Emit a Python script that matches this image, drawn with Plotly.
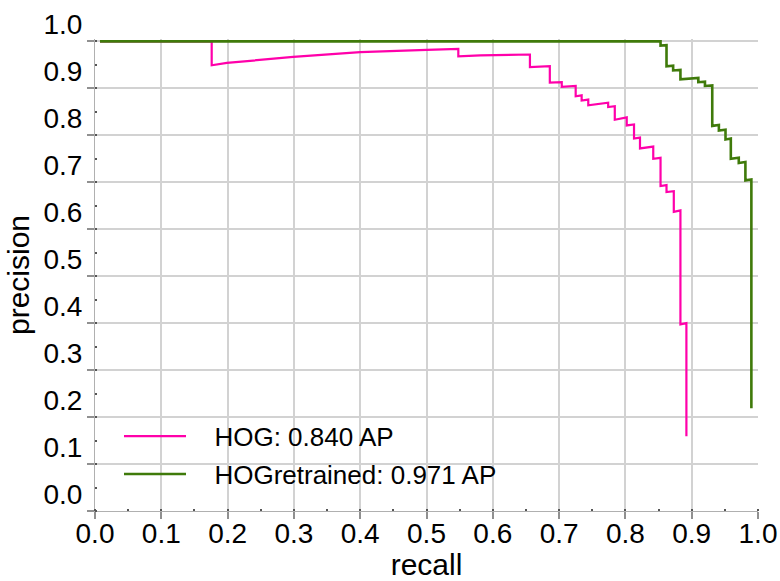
import plotly.graph_objects as go

# HOG precision-recall curve (recall, precision) points
hog_recall = [0.0075, 0.176, 0.176, 0.199, 0.299, 0.400, 0.5005, 0.548, 0.548, 0.581, 0.656,
              0.656, 0.686, 0.686, 0.704, 0.704, 0.725, 0.725, 0.734, 0.734, 0.744, 0.744,
              0.774, 0.774, 0.784, 0.784, 0.802, 0.802, 0.813, 0.813, 0.822, 0.822, 0.842,
              0.842, 0.853, 0.853, 0.862, 0.862, 0.873, 0.873, 0.883, 0.883, 0.892, 0.892]
hog_precision = [1.0, 1.0, 0.949, 0.954, 0.967, 0.977, 0.982, 0.984, 0.968, 0.970, 0.972,
                 0.945, 0.947, 0.912, 0.913, 0.903, 0.905, 0.883, 0.885, 0.874, 0.876, 0.864,
                 0.8695, 0.860, 0.862, 0.833, 0.838, 0.821, 0.823, 0.793, 0.795, 0.772, 0.776,
                 0.750, 0.752, 0.692, 0.694, 0.679, 0.681, 0.637, 0.640, 0.3975, 0.400, 0.159]

# HOGretrained precision-recall curve
ret_recall = [0.0075, 0.853, 0.853, 0.862, 0.862, 0.872, 0.872, 0.883, 0.883, 0.910, 0.910,
              0.920, 0.920, 0.931, 0.931, 0.941, 0.941, 0.951, 0.951, 0.959, 0.959, 0.971,
              0.971, 0.981, 0.981, 0.990, 0.990]
ret_precision = [1.0, 1.0, 0.991, 0.992, 0.947, 0.948, 0.938, 0.939, 0.919, 0.922, 0.913,
                 0.914, 0.905, 0.906, 0.820, 0.822, 0.810, 0.812, 0.791, 0.793, 0.750, 0.752,
                 0.741, 0.743, 0.704, 0.706, 0.219]

series_names = ["HOG: 0.840 AP", "HOGretrained: 0.971 AP"]
series_colors = ["#ff00aa", "#3f7a0a"]

tick_vals = [0.0, 0.1, 0.2, 0.3, 0.4, 0.5, 0.6, 0.7, 0.8, 0.9, 1.0]
tick_text = ["0.0", "0.1", "0.2", "0.3", "0.4", "0.5", "0.6", "0.7", "0.8", "0.9", "1.0"]

FONT = "Liberation Sans, Arial, sans-serif"
GAP = "\u2002\u2009\u2009"  # spacing between legend line and label

fig = go.Figure()
fig.add_trace(go.Scatter(x=hog_recall, y=hog_precision, mode="lines",
                         name=GAP + series_names[0], legendgroup="a",
                         line=dict(color=series_colors[0], width=2.2)))
fig.add_trace(go.Scatter(x=ret_recall, y=ret_precision, mode="lines",
                         name=GAP + series_names[1], legendgroup="b",
                         line=dict(color=series_colors[1], width=2.6)))

axis_common = dict(
    tickvals=tick_vals, ticktext=tick_text,
    showgrid=True, gridcolor="#d2d2d2", gridwidth=1.5,
    showline=True, linecolor="#b0b0b0", linewidth=1,
    ticks="outside", ticklen=7, tickwidth=1.5, tickcolor="#909090",
    tickfont=dict(family=FONT, size=28, color="black"),
    zeroline=False, automargin=False,
    minor=dict(dtick=0.05, ticks="inside", ticklen=2, tickcolor="#555555", showgrid=False),
)

fig.update_xaxes(range=[0, 1], ticklabelstandoff=-10,
                 title=dict(text="recall", font=dict(family=FONT, size=30, color="black"), standoff=3),
                 **axis_common)
fig.update_yaxes(range=[0, 1.005], ticklabelshift=-17, ticklabelstandoff=-1,
                 title=dict(text="precision", font=dict(family=FONT, size=30, color="black"), standoff=4),
                 **axis_common)

fig.update_layout(
    width=780, height=581,
    margin=dict(l=95, r=22, t=39, b=70),
    paper_bgcolor="white", plot_bgcolor="white",
    font=dict(family=FONT, color="black"),
    showlegend=True,
    legend=dict(x=0.0362, y=0.208, xanchor="left", yanchor="top",
                bgcolor="rgba(0,0,0,0)", borderwidth=0,
                font=dict(family=FONT, size=26, color="black"),
                itemwidth=62, tracegroupgap=1),
)

fig.write_html("out.html", config={"displayModeBar": False},
               post_script="document.body.style.margin='0';")
